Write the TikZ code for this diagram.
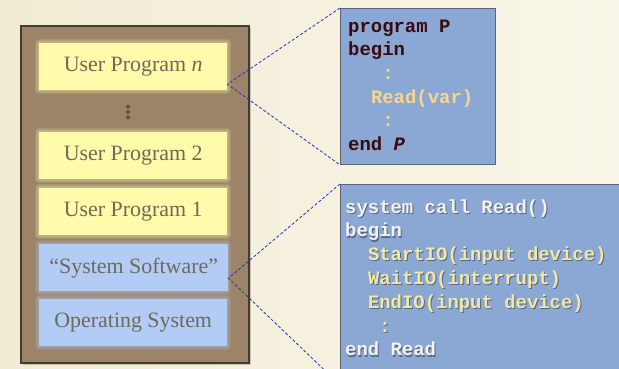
\documentclass[tikz,border=0pt]{standalone}
\usepackage{fontspec}
\setmainfont{Liberation Serif}
\newfontfamily\codefont{Liberation Mono}
\usetikzlibrary{calc,shadows}

\definecolor{paper}{HTML}{F2ECD4}
\definecolor{paperlight}{HTML}{F9F6E9}
\definecolor{stackfill}{HTML}{9C8468}
\definecolor{stackline}{HTML}{403C33}
\definecolor{userfill}{HTML}{FFFBAA}
\definecolor{sysfill}{HTML}{B2CCF6}
\definecolor{labelgray}{HTML}{6F6A58}
\definecolor{codefill}{HTML}{8BA7D4}
\definecolor{codeline}{HTML}{5E6470}
\definecolor{darkcode}{HTML}{3A0A0C}
\definecolor{lightcode}{HTML}{F4F2EC}
\definecolor{yellowcode}{HTML}{F3E7A4}
\definecolor{orangecode}{HTML}{F7D68C}
\definecolor{leader}{HTML}{2233BB}
\definecolor{codeshadow}{HTML}{56688A}

\tikzset{
  layer/.style={draw=none, minimum width=188bp, minimum height=47bp,
    anchor=north west, inner sep=0pt, text=labelgray,
    font=\fontsize{22}{26}\selectfont},
  userlayer/.style={layer, fill=userfill},
  syslayer/.style={layer, fill=sysfill},
  codebox/.style={draw=codeline, line width=0.9bp, fill=codefill,
    anchor=north west, inner sep=0pt},
  codetxt/.style={anchor=base west, inner sep=0pt,
    font=\codefont\bfseries\fontsize{19}{24}\selectfont},
  leaderline/.style={draw=leader, line width=0.8bp, dash pattern=on 3bp off 2bp},
  halo/.style={fill=#1, opacity=0.12},
}

\begin{document}
\begin{tikzpicture}[x=1bp, y=-1bp]
  % page and background
  \useasboundingbox (0,0) rectangle (619,368);
  \clip (0,0) rectangle (619,368);
  \shade[left color=paper, right color=paperlight] (0,0) rectangle (619,368);

  % the memory stack
  \fill[black, opacity=0.18] (23,28) rectangle (251,365);
  \node[draw=stackline, line width=1.6bp, fill=stackfill, anchor=north west,
        minimum width=228bp, minimum height=337bp, inner sep=0pt] (stack) at (20,25) {};

  % soft glow round the layers, built from fading rings
  \foreach \yy/\cc in {43/userfill,132/userfill,188/userfill,244/sysfill,299/sysfill}
    \foreach \gg in {1,2,3,4}
      \fill[halo=\cc, rounded corners=\gg bp]
        (39-\gg,\yy-\gg) rectangle (227+\gg,\yy+47+\gg);

  \node[userlayer] (upn) at (39,43)  {User Program \textit{n}};
  \foreach \yy in {106.5,112,117.5}
    \fill[labelgray!80!black] (128,\yy) circle (2bp);
  \node[userlayer] (up2) at (39,132) {User Program 2};
  \node[userlayer] (up1) at (39,188) {User Program 1};
  \node[syslayer, minimum width=189bp] (sys) at (39,244) {``System Software''};
  \node[syslayer] (os)  at (39,299) {Operating System};

  % code of the user program
  \node[codebox, minimum width=155bp, minimum height=156bp] (progP) at (340,8) {};
  \begin{scope}[every node/.style={codetxt}]
    \node[text=darkcode]   (p1) at (348,32)    {program P};
    \node[text=darkcode]   (p2) at (348,55.7)  {begin};
    \node[text=orangecode] (p3) at (382.2,79.4) {:};
    \node[text=orangecode] (p4) at (370.8,103.1) {Read(var)};
    \node[text=orangecode] (p5) at (382.2,126.8) {:};
    \node[text=darkcode]   (p6) at (348,150.5) {end \textit{P}};
  \end{scope}

  % code of the system call
  \node[codebox, minimum width=300bp, minimum height=200bp] (sysRead) at (340,184) {};
  \begin{scope}[every node/.style={codetxt}]
    \foreach \tx/\ty/\tc/\tt in {
        345/213/lightcode/{system call Read()},
        345/236.8/lightcode/{begin},
        367.8/260.6/yellowcode/{StartIO(input device)},
        367.8/284.4/yellowcode/{WaitIO(interrupt)},
        367.8/308.2/yellowcode/{EndIO(input device)},
        379.2/332/yellowcode/{:},
        345/355.8/lightcode/{end Read}} {
      \node[text=codeshadow] at (\tx+1,\ty+1.2) {\tt};
      \node[text=\tc] at (\tx,\ty) {\tt};
    }
  \end{scope}

  % leader lines from the layers to their code
  \coordinate (va) at ($(upn.east)+(0,17.5)$);
  \coordinate (vb) at ($(sys.east)+(0,10.5)$);
  \draw[leaderline] (progP.north west) -- (va) -- (progP.south west);
  \draw[leaderline] (sysRead.north west) -- (vb) -- (sysRead.south west);
\end{tikzpicture}
\end{document}
